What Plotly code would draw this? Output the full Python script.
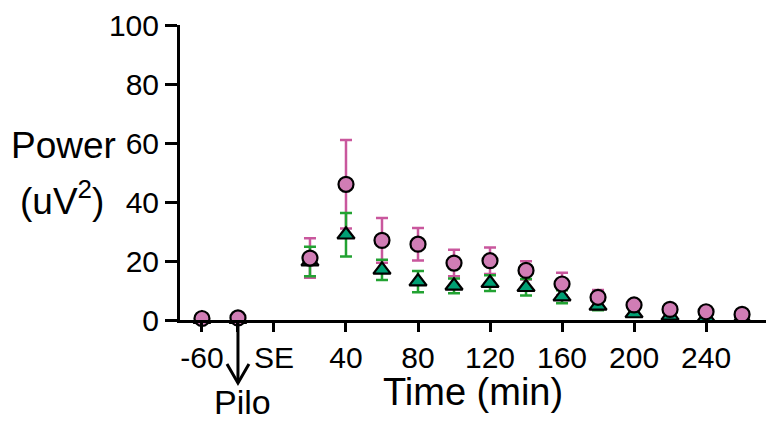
import plotly.graph_objects as go

# Time points (min, plotted position); -40 is the baseline labelled "-60", -20 is pilocarpine
time_pts = [-40, -20, 20, 40, 60, 80, 100, 120, 140, 160, 180, 200, 220, 240, 260]

# Pink series (circles): mean and SEM
pink_mean = [0.5, 0.7, 21.0, 46.0, 27.0, 25.7, 19.3, 20.1, 16.8, 12.2, 7.7, 5.1, 3.6, 2.8, 1.9]
pink_err = [0.3, 0.3, 6.7, 15.0, 7.6, 5.5, 4.5, 4.5, 3.1, 3.8, 2.5, 1.2, 0.8, 0.6, 0.5]

# Green series (triangles): mean and SEM
green_mean = [0.3, 0.3, 19.8, 28.9, 17.0, 13.0, 11.6, 12.5, 11.1, 7.9, 4.8, 2.2, 1.4, 0.9, 0.6]
green_err = [0.2, 0.2, 5.0, 7.4, 3.4, 3.6, 2.5, 2.7, 2.8, 2.2, 1.5, 0.8, 0.5, 0.4, 0.3]

x_tickvals = [-40, -20, 0, 40, 80, 120, 160, 200, 240]
x_ticktext = ["-60", "", "SE", "40", "80", "120", "160", "200", "240"]
y_tickvals = [0, 20, 40, 60, 80, 100]
pilo_time = -20

PINK_FILL = "#D07DB5"
PINK_BAR = "#C9579D"
GREEN_FILL = "#00A074"
GREEN_BAR = "#22A232"
FONT = "Liberation Sans, Arial, sans-serif"

W, H = 767, 423
L, R, T, B = 180, 1, 25, 103
pw, ph = W - L - R, H - T - B
X_RANGE = [-52.2, 273.3]


def px_to_paper(px, py):
    return (px - L) / pw, 1 - (py - T) / ph


def data_x_to_paper(xv):
    return (xv - X_RANGE[0]) / (X_RANGE[1] - X_RANGE[0])


fig = go.Figure()

# Error bars first (invisible markers), then markers on top
fig.add_trace(go.Scatter(
    x=time_pts, y=pink_mean, mode="markers",
    marker=dict(size=1, opacity=0),
    error_y=dict(type="data", array=pink_err, color=PINK_BAR, thickness=2.5, width=6),
    cliponaxis=False, showlegend=False, hoverinfo="skip"))
fig.add_trace(go.Scatter(
    x=time_pts, y=green_mean, mode="markers",
    marker=dict(size=1, opacity=0),
    error_y=dict(type="data", array=green_err, color=GREEN_BAR, thickness=2.5, width=6),
    cliponaxis=False, showlegend=False, hoverinfo="skip"))
fig.add_trace(go.Scatter(
    x=time_pts, y=green_mean, mode="markers", name="green",
    marker=dict(symbol="triangle-up", size=15, color=GREEN_FILL,
                line=dict(color="black", width=2.2)),
    cliponaxis=False, showlegend=False))
fig.add_trace(go.Scatter(
    x=time_pts, y=pink_mean, mode="markers", name="pink",
    marker=dict(symbol="circle", size=15, color=PINK_FILL,
                line=dict(color="black", width=2.2)),
    cliponaxis=False, showlegend=False))

axis_common = dict(showline=True, linecolor="black", linewidth=3, ticks="outside",
                   tickcolor="black", tickwidth=2.5, showgrid=False, zeroline=False,
                   tickfont=dict(family=FONT, size=30, color="black"))

fig.update_xaxes(range=X_RANGE, tickvals=x_tickvals, ticktext=x_ticktext,
                 ticklen=9, **axis_common)
fig.update_yaxes(range=[0, 100], tickvals=y_tickvals, ticklen=12, **axis_common)

# Pilocarpine arrow: shaft plus open V head, drawn in paper units below the axis
ax_x = data_x_to_paper(pilo_time)
_, y_top = px_to_paper(0, 321)
_, y_tip = px_to_paper(0, 383)
_, y_wing = px_to_paper(0, 364)
half_w = 11 / pw
arrow_line = dict(color="black", width=3)
fig.add_shape(type="line", xref="paper", yref="paper",
              x0=ax_x, y0=y_top, x1=ax_x, y1=y_tip, line=arrow_line)
fig.add_shape(type="path", xref="paper", yref="paper",
              path=f"M {ax_x - half_w} {y_wing} L {ax_x} {y_tip} L {ax_x + half_w} {y_wing}",
              line=arrow_line)

_, pilo_y = px_to_paper(0, 402)
fig.add_annotation(x=pilo_time, y=pilo_y, xref="x", yref="paper", text="Pilo",
                   showarrow=False, yanchor="middle", xshift=5,
                   font=dict(family=FONT, size=34, color="black"))

# Axis titles placed by pixel position
titles = [("Time (min)", 473, 392, 38), ("Power", 63, 145, 37), ("(uV<sup>2</sup>)", 62, 198, 37)]
for text, px, py, size in titles:
    xp, yp = px_to_paper(px, py)
    fig.add_annotation(x=xp, y=yp, xref="paper", yref="paper", text=text, showarrow=False,
                       xanchor="center", yanchor="middle",
                       font=dict(family=FONT, size=size, color="black"))

fig.update_layout(width=W, height=H, margin=dict(l=L, r=R, t=T, b=B),
                  plot_bgcolor="white", paper_bgcolor="white", showlegend=False)

fig.write_html("out.html")
